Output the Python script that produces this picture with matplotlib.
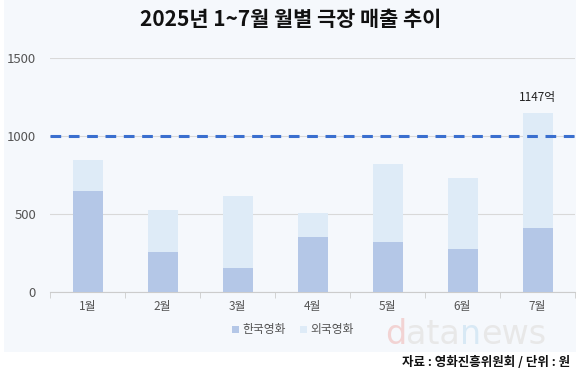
import numpy as np
import matplotlib
matplotlib.use("Agg")
import matplotlib.pyplot as plt
from matplotlib.patches import Rectangle

plt.rcParams['font.family'] = ['Noto Sans CJK KR', 'DejaVu Sans']

months = ["1월", "2월", "3월", "4월", "5월", "6월", "7월"]
korean = [650, 256, 154, 353, 320, 276, 410]
total = [848, 527, 615, 507, 820, 731, 1147]
foreign = [t - k for t, k in zip(total, korean)]

c_kor = "#b4c7e7"
c_for = "#deebf7"
bg = "#f5f8fc"

fig = plt.figure(figsize=(5.8, 3.77), dpi=100)
fig.patch.set_facecolor("white")
fig.patches.append(Rectangle((4 / 580, 1 - 352 / 377), 572 / 580, 352 / 377,
                             transform=fig.transFigure, facecolor=bg,
                             edgecolor="none", zorder=-10))

ax = fig.add_axes([50 / 580, 1 - 292 / 377, 525 / 580, 234 / 377])
ax.set_facecolor("none")

x = np.arange(len(months))
ax.bar(x, korean, width=0.4, color=c_kor, label="한국영화", zorder=3)
ax.bar(x, foreign, width=0.4, bottom=korean, color=c_for, label="외국영화", zorder=3)

ax.axhline(1000, color="#3a6fcf", linestyle=(0, (3.5, 2.5)), linewidth=2.2, zorder=4)
ax.text(x[-1], total[-1] + 55, f"{total[-1]}억", ha="center", va="bottom",
        fontsize=8.5, color="#222222")

ax.set_xlim(-0.5, len(months) - 0.5)
ax.set_ylim(0, 1500)
ax.set_yticks([0, 500, 1000, 1500])
ax.grid(axis="y", color="#d9d9d9", linewidth=0.8, zorder=0)
ax.set_xticks(x)
ax.set_xticklabels(months)
ax.set_xticks(np.arange(-0.5, len(months)), minor=True)
ax.tick_params(axis="x", which="major", length=0, pad=6, labelsize=8.5, colors="#555555")
ax.tick_params(axis="x", which="minor", length=4, color="#cccccc")
ax.tick_params(axis="y", length=0, pad=10, labelsize=9.5, colors="#555555")
for s in ["top", "right", "left"]:
    ax.spines[s].set_visible(False)
ax.spines["bottom"].set_color("#cccccc")

fig.text(291 / 580, 1 - 20 / 377, "2025년 1~7월 월별 극장 매출 추이", ha="center", va="center",
         fontsize=15, fontweight="bold", color="#111111")

fig.legend(loc="center", bbox_to_anchor=(293 / 580, 1 - 330 / 377), ncol=2, frameon=False,
           fontsize=8.5, handlelength=0.6, handleheight=0.6, handletextpad=0.3,
           columnspacing=1.2, labelcolor="#555555")

# watermark
parts = [("d", "#f2d3d3"), ("ata", "#e8e8e8"), ("n", "#d8e9f5"), ("ews", "#e8e8e8")]
fig.canvas.draw()
renderer = fig.canvas.get_renderer()
xpos = 385 / 580
for txt, col in parts:
    t = fig.text(xpos, 1 - 344 / 377, txt, fontsize=24, color=col,
                 family="DejaVu Sans", ha="left", va="baseline", zorder=-5)
    bb = t.get_window_extent(renderer)
    xpos += bb.width / fig.bbox.width

fig.text(570 / 580, 1 - 362 / 377, "자료 : 영화진흥위원회 / 단위 : 원", ha="right", va="center",
         fontsize=9, fontweight="bold", color="#111111")

fig.savefig("out.png", dpi=100)
